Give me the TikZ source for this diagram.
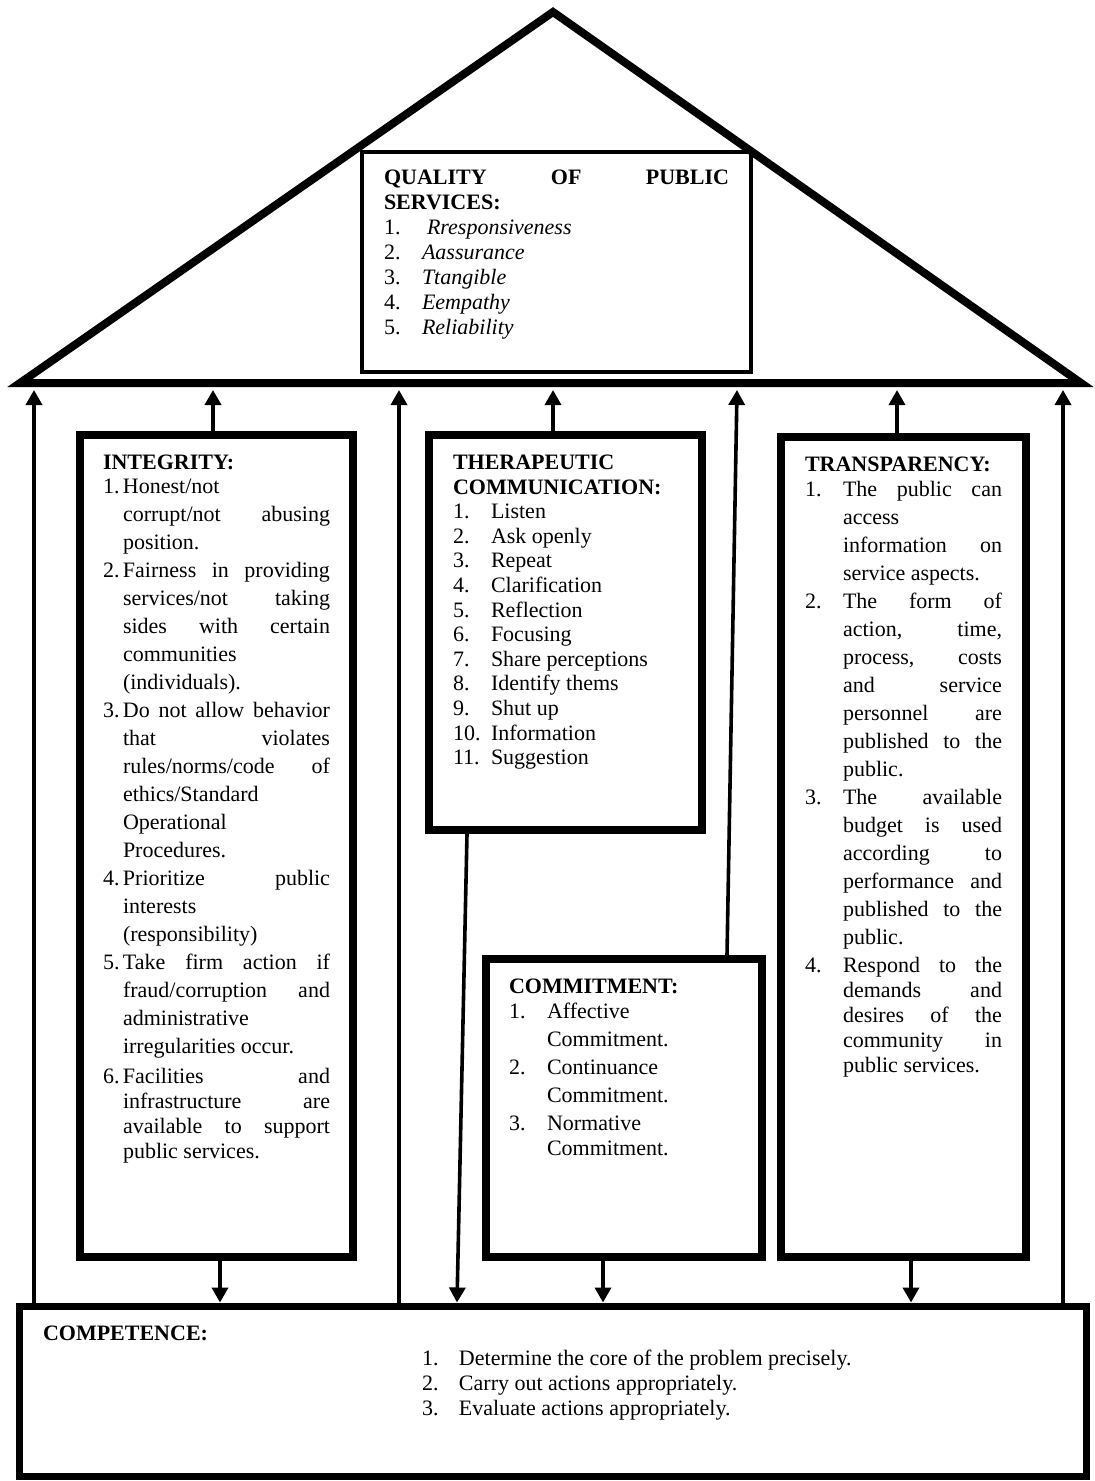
\documentclass[tikz,border=0pt]{standalone}
\usepackage{fontspec}
\setmainfont{Liberation Serif}
\usetikzlibrary{arrows.meta}

% numbered line, the following lines hang under the text
\newcommand{\itm}[2][19pt]{\par\hangindent=#1\hangafter=1\makebox[#1][l]{#2}}
% text block sitting at the top of a box of fixed size
\newcommand{\boxtext}[3]{\parbox[c][#2][t]{#1}{\hyphenpenalty=10000 \tolerance=10000 \hbadness=10000 #3}}

\begin{document}
\begin{tikzpicture}[
    x=0.5pt, y=-0.5pt,
    pillar/.style={
      draw,
      line width=4pt,
      inner ysep=10pt,
      font=\fontsize{11}{14}\selectfont
    },
    arr/.style={
      -{Triangle[length=7.5pt, width=8pt]},
      line width=1.8pt
    }
  ]
  \useasboundingbox (0,0) rectangle (1095,1481);

  % roof
  \coordinate (apex) at (553,12);
  \coordinate (eaveL) at (20,383);
  \coordinate (eaveR) at (1081,383);
  \draw[line width=4pt] (eaveL) -- (apex) -- (eaveR) -- cycle;

  \node[pillar, line width=2pt, inner xsep=11pt, inner ysep=9pt] (quality) at (556.5,262)
    {\boxtext{172.5pt}{92pt}{\baselineskip=12.5pt
      \textbf{QUALITY OF PUBLIC\linebreak SERVICES:}
      \itm{1.}\hspace{2.5pt}\textit{Rresponsiveness}
      \itm{2.}\textit{Aassurance}
      \itm{3.}\textit{Ttangible}
      \itm{4.}\textit{Eempathy}
      \itm{5.}\textit{Reliability}}};

  % pillars
  \node[pillar, inner xsep=11.5pt] (integrity) at (216.5,846)
    {\boxtext{113.5pt}{391pt}{\baselineskip=14pt
      \textbf{INTEGRITY:}\par\vspace{-2pt}
      \itm[10pt]{1.}Honest/not\linebreak corrupt/not abusing\linebreak position.
      \itm[10pt]{2.}Fairness in providing\linebreak services/not taking\linebreak sides with certain\linebreak communities\linebreak (individuals).
      \itm[10pt]{3.}Do not allow behavior\linebreak that violates\linebreak rules/norms/code of\linebreak ethics/Standard\linebreak Operational\linebreak Procedures.
      \itm[10pt]{4.}Prioritize public\linebreak interests\linebreak (responsibility)
      \itm[10pt]{5.}Take firm action if\linebreak fraud/corruption and\linebreak administrative\linebreak irregularities occur.
      \par\vspace{2.5pt}\baselineskip=12.5pt
      \itm[10pt]{6.}Facilities and\linebreak infrastructure are\linebreak available to support\linebreak public services.}};

  \node[pillar, inner xsep=12pt] (therapeutic) at (565.5,632.5)
    {\boxtext{112.5pt}{177.5pt}{\baselineskip=12.3pt
      \textbf{THERAPEUTIC\\COMMUNICATION:}
      \itm{1.}Listen
      \itm{2.}Ask openly
      \itm{3.}Repeat
      \itm{4.}Clarification
      \itm{5.}Reflection
      \itm{6.}Focusing
      \itm{7.}Share perceptions
      \itm{8.}Identify thems
      \itm{9.}Shut up
      \itm{10.}Information
      \itm{11.}Suggestion}};

  \node[pillar, inner xsep=11.5pt] (commitment) at (624,1108)
    {\boxtext{115pt}{129pt}{\baselineskip=14pt
      \textbf{COMMITMENT:}\par\vspace{-1.5pt}
      \itm{1.}Affective\linebreak Commitment.
      \itm{2.}Continuance\linebreak Commitment.
      \par\vspace{1.5pt}\baselineskip=12.5pt
      \itm{3.}Normative\linebreak Commitment.}};

  \node[pillar, inner xsep=12pt] (transparency) at (903.5,847)
    {\boxtext{98.5pt}{390pt}{\baselineskip=14pt
      \textbf{TRANSPARENCY:}\par\vspace{-1.5pt}
      \itm{1.}The public can\linebreak access\linebreak information on\linebreak service aspects.
      \itm{2.}The form of\linebreak action, time,\linebreak process, costs\linebreak and service\linebreak personnel are\linebreak published to the\linebreak public.
      \itm{3.}The available\linebreak budget is used\linebreak according to\linebreak performance and\linebreak published to the\linebreak public.
      \par\vspace{1.5pt}\baselineskip=12.5pt
      \itm{4.}Respond to the\linebreak demands and\linebreak desires of the\linebreak community in\linebreak public services.}};

  % foundation
  \node[pillar, line width=3.5pt, inner xsep=12pt] (competence) at (552.5,1391)
    {\boxtext{509.5pt}{65pt}{\baselineskip=12.5pt
      \textbf{COMPETENCE:}\par\leftskip=189.5pt
      \itm[18.5pt]{1.}Determine the core of the problem precisely.
      \itm[18.5pt]{2.}Carry out actions appropriately.
      \itm[18.5pt]{3.}Evaluate actions appropriately.}};

  % where the arrows meet the roof
  \coordinate (postL) at (34,390);
  \coordinate (postI) at (213,390);
  \coordinate (postM) at (399,390);
  \coordinate (postC) at (737,390);
  \coordinate (postT) at (897,390);
  \coordinate (postR) at (1063,390);
  % where the arrows leave or meet the boxes below
  \coordinate (footI) at (220,1300);
  \coordinate (footTh) at (467,1300);
  \coordinate (footTc) at (457,1300);
  \coordinate (footC) at (603,1300);
  \coordinate (footCt) at (727,1300);
  \coordinate (footT) at (911,1300);

  \draw[arr] (postL |- competence.north) -- (postL);
  \draw[arr] (postM |- competence.north) -- (postM);
  \draw[arr] (postR |- competence.north) -- (postR);

  \draw[arr] (postI |- integrity.north) -- (postI);
  \draw[arr] (therapeutic.north -| apex) -- (apex |- postL);
  \draw[arr] (footCt |- commitment.north) -- (postC);
  \draw[arr] (postT |- transparency.north) -- (postT);

  \draw[arr] (footI |- integrity.south) -- (footI |- competence.north);
  \draw[arr] (footTh |- therapeutic.south) -- (footTc |- competence.north);
  \draw[arr] (footC |- commitment.south) -- (footC |- competence.north);
  \draw[arr] (footT |- transparency.south) -- (footT |- competence.north);
\end{tikzpicture}
\end{document}
